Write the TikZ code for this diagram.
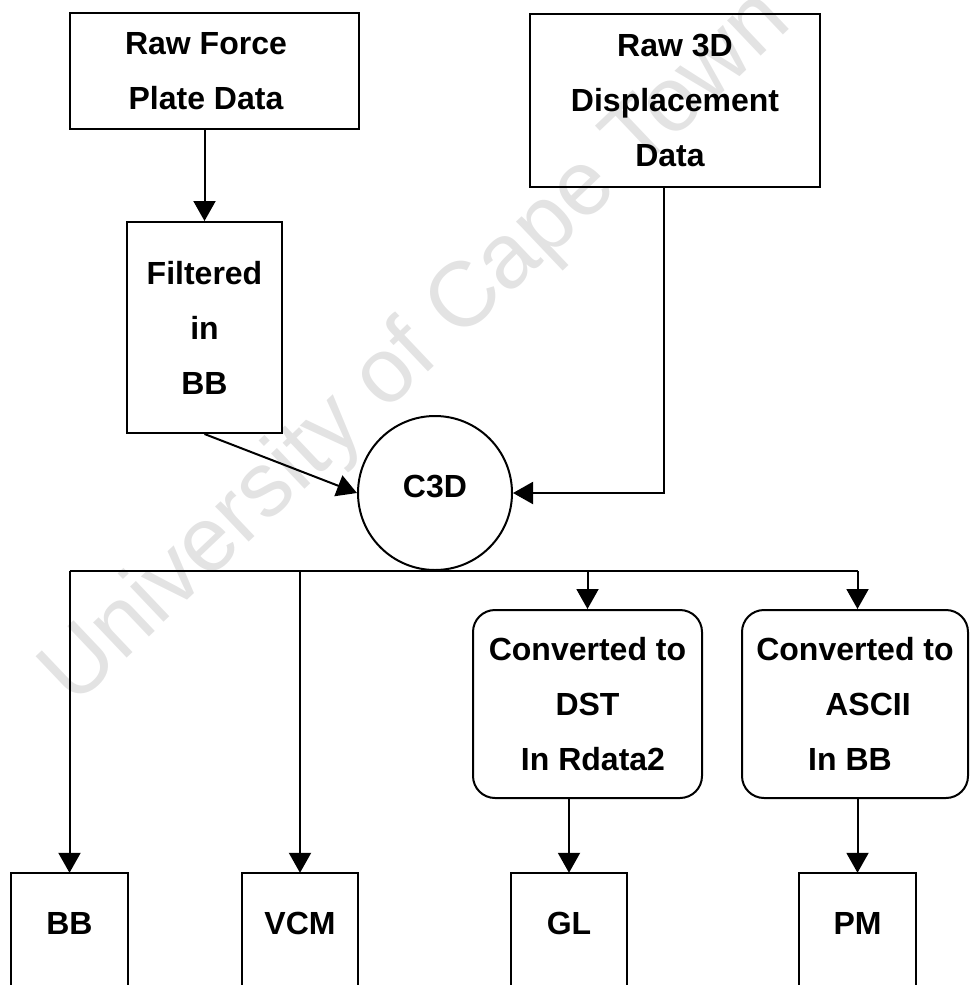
\documentclass[tikz,border=0pt]{standalone}
\usepackage{fontspec}
\setmainfont{Liberation Sans}
\usetikzlibrary{arrows.meta,calc}
\begin{document}
\begin{tikzpicture}[x=1pt,y=-1pt,
  txt/.style={inner sep=0pt,align=center,font=\fontsize{32}{55}\selectfont\bfseries},
  box/.style={txt,draw,line width=2pt},
  rbox/.style={box,rounded corners=22pt},
  arr/.style={line width=2pt,-{Triangle[length=20pt,width=22pt]}},
  ln/.style={line width=2pt},
  wmark/.style={inner sep=0pt,text=black!11,font=\fontsize{92}{92}\selectfont}]
\useasboundingbox (0,0) rectangle (969,985);
\clip (0,0) rectangle (969,985);
% watermark
\node[wmark,rotate=43.5,anchor=base west] (wm) at (74,708) {University of Cape Town};
% boxes
\node[box,minimum width=289pt,minimum height=116pt] (rf) at (214.5,71) {Raw Force\hspace*{17pt}\\Plate Data\hspace*{17pt}};
\node[box,minimum width=155pt,minimum height=211pt] (fil) at (204.5,327.5) {Filtered\\in\\BB};
\node[box,minimum width=290pt,minimum height=173pt] (r3d) at (675,100.5) {Raw 3D\\Displacement\\Data\hspace*{10pt}};
\node[circle,draw,line width=2pt,minimum size=154pt,txt] (c3d) at (435,493) {\raisebox{14pt}{C3D}};
\node[rbox,minimum width=229pt,minimum height=188pt] (cv1) at (587.5,704) {Converted to\\DST\hspace*{21pt}\\\hspace*{11pt}In Rdata2};
\node[rbox,minimum width=226pt,minimum height=188pt] (cv2) at (855,704) {Converted to\\\hspace*{26pt}ASCII\\In BB\hspace*{10pt}};
% bottom boxes (cut off by the page edge)
\node[txt,minimum width=117pt,minimum height=100pt] (bb) at (69.5,923) {BB};
\node[txt,minimum width=116pt,minimum height=100pt] (vcm) at (300,923) {VCM};
\node[txt,minimum width=116pt,minimum height=100pt] (gl) at (569,923) {GL};
\node[txt,minimum width=117pt,minimum height=100pt] (pm) at (857.5,923) {PM};
\foreach \n in {bb,vcm,gl,pm}{
  \draw[ln] ($(\n.south west)+(0,40)$) -- (\n.north west) -- (\n.north east) -- ($(\n.south east)+(0,40)$);
}
% connectors
\draw[arr] (rf.south -| fil.north) -- (fil.north);
\draw[arr] (fil.south) -- (c3d.west);
\draw[arr] ([xshift=-11pt]r3d.south) |- (c3d.east);
\draw[ln] (bb.north |- c3d.south) -- (pm.north |- c3d.south);
\draw[arr] (bb.north |- c3d.south) -- (bb.north);
\draw[arr] (vcm.north |- c3d.south) -- (vcm.north);
\draw[arr] (cv1.north |- c3d.south) -- (cv1.north);
\draw[arr] (pm.north |- c3d.south) -- (pm.north |- cv2.north);
\draw[arr] (cv1.south -| gl.north) -- (gl.north);
\draw[arr] (cv2.south -| pm.north) -- (pm.north);
\end{tikzpicture}
\end{document}
